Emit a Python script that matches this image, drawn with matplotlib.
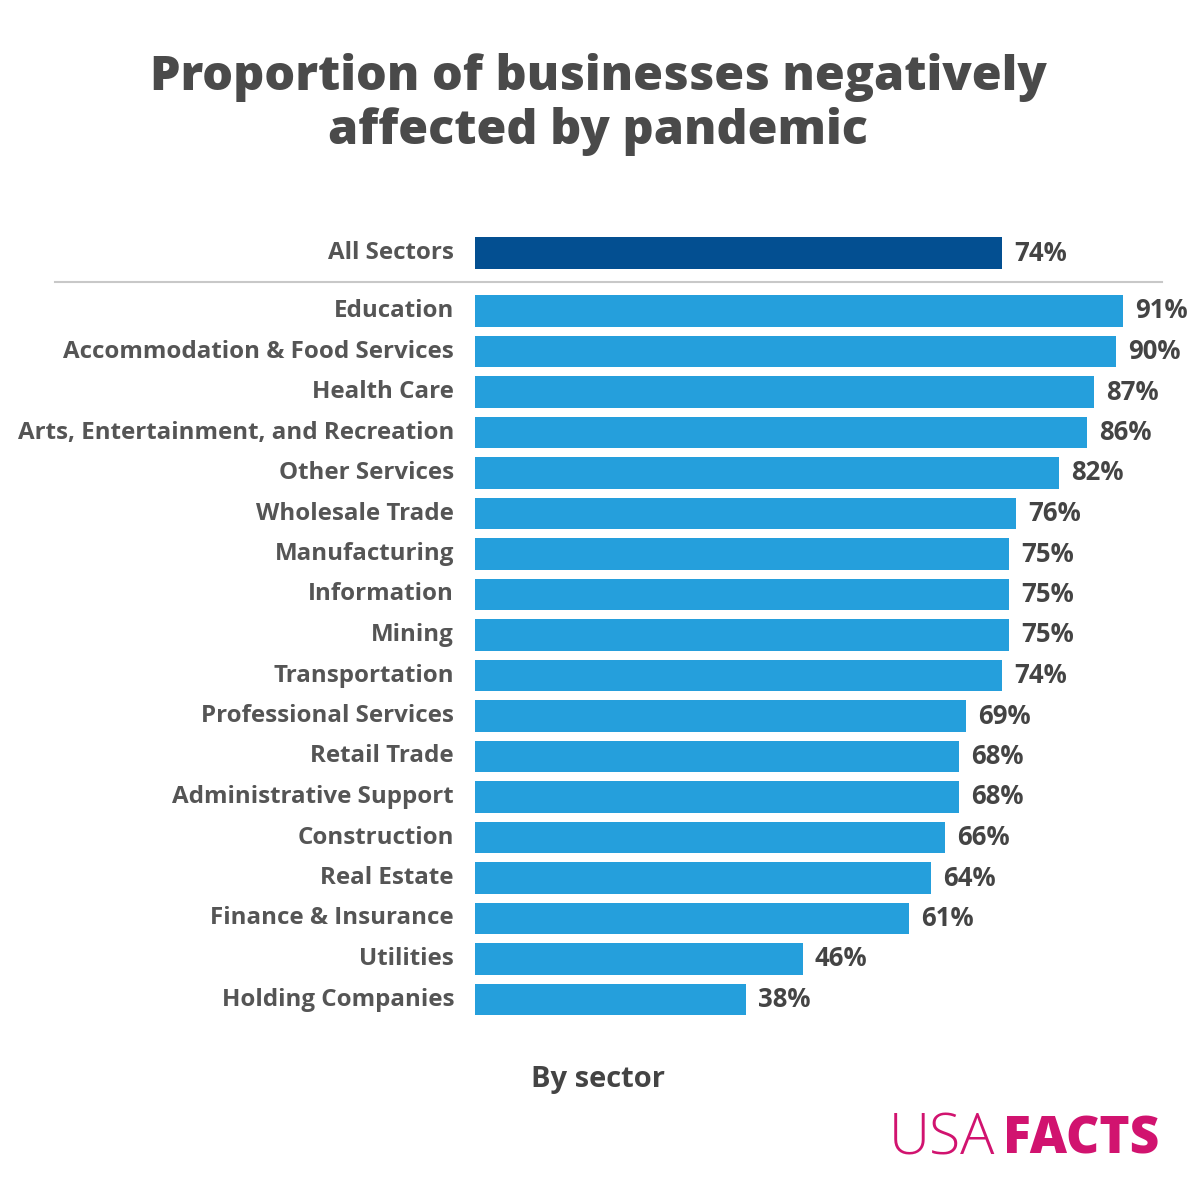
import matplotlib
matplotlib.use("Agg")
import matplotlib.pyplot as plt

FONT = "Open Sans"
plt.rcParams['font.family'] = [FONT, 'DejaVu Sans']

total_label = "All Sectors"
total_value = 74
sectors = ["Education", "Accommodation & Food Services", "Health Care",
           "Arts, Entertainment, and Recreation", "Other Services", "Wholesale Trade",
           "Manufacturing", "Information", "Mining", "Transportation",
           "Professional Services", "Retail Trade", "Administrative Support",
           "Construction", "Real Estate", "Finance & Insurance", "Utilities",
           "Holding Companies"]
values = [91, 90, 87, 86, 82, 76, 75, 75, 75, 74, 69, 68, 68, 66, 64, 61, 46, 38]

W = H = 1200
fig = plt.figure(figsize=(12, 12), dpi=100)
fig.patch.set_facecolor("white")

x0_px, x1_px = 475, 475 + 7.12 * 100
ymin_d, ymax_d = -2.0, 17.6
step = 40.5
top_px = 311 + ymin_d * step
bot_px = 311 + ymax_d * step
ax = fig.add_axes([x0_px / W, 1 - bot_px / H, (x1_px - x0_px) / W, (bot_px - top_px) / H])
ax.set_xlim(0, 100)
ax.set_ylim(ymax_d, ymin_d)
ax.axis("off")

light = "#259fdc"
dark = "#034f91"
txt = "#555555"
valtxt = "#444444"
bh = 0.79
total_y = -1.43

ax.barh(total_y, total_value, height=bh, color=dark)
ax.barh(range(len(sectors)), values, height=bh, color=light)

lab_fs = 17.4
val_fs = 18.5
xpad = -21 / 7.12
ax.text(xpad, total_y, total_label, ha="right", va="center", fontsize=lab_fs,
        fontweight="bold", color=txt)
ax.text(total_value + 12 / 7.12, total_y, f"{total_value}%", ha="left", va="center",
        fontsize=val_fs, fontweight="bold", color=valtxt)
for i, (s, v) in enumerate(zip(sectors, values)):
    ax.text(xpad, i, s, ha="right", va="center", fontsize=lab_fs, fontweight="bold", color=txt)
    ax.text(v + 12 / 7.12, i, f"{v}%", ha="left", va="center", fontsize=val_fs,
            fontweight="bold", color=valtxt)

fig.add_artist(plt.Line2D([55 / W, 1162 / W], [1 - 282 / H, 1 - 282 / H],
                          color="#c8c8c8", lw=1.5))

fig.text(598 / W, 1 - 78 / H, "Proportion of businesses negatively", ha="center", va="center",
         fontsize=34.8, fontweight="heavy", color="#4a4a4a")
fig.text(598 / W, 1 - 131 / H, "affected by pandemic", ha="center", va="center",
         fontsize=34.8, fontweight="heavy", color="#4a4a4a")

fig.text(598 / W, 1 - 1080 / H, "By sector", ha="center", va="center",
         fontsize=21, fontweight="bold", color="#444444")

fig.text(995 / W, 1 - 1140 / H, "USA", ha="right", va="center", fontsize=41,
         fontweight="light", color="#d1136f")
fig.text(1003 / W, 1 - 1140 / H, "FACTS", ha="left", va="center", fontsize=37,
         fontweight="heavy", color="#d1136f")

fig.savefig("out.png", dpi=100, facecolor="white")
